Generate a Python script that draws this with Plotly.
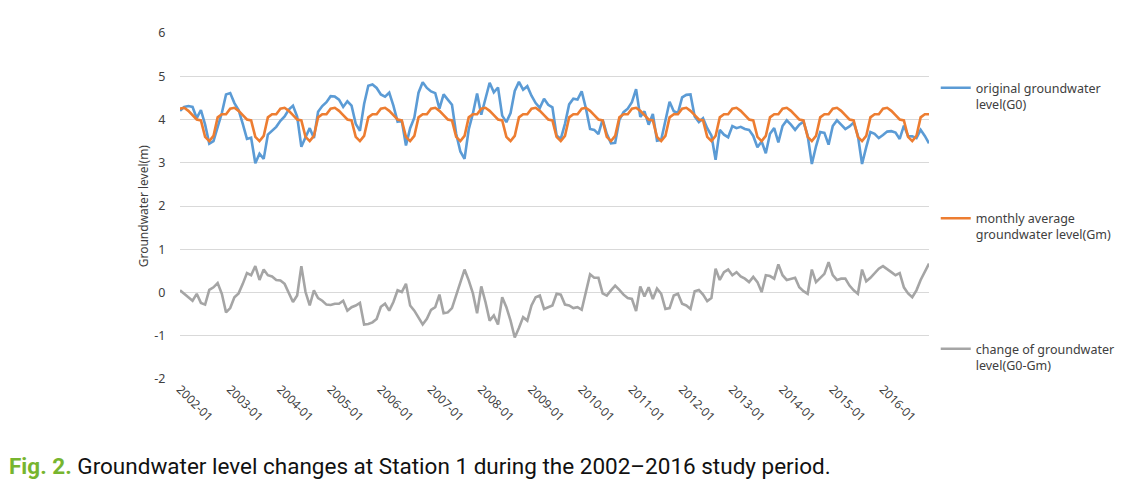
import plotly.graph_objects as go

years = list(range(2002, 2017))
months = [f"{y}-{m:02d}" for y in years for m in range(1, 13)]
tick_labels = [f"{y}-01" for y in years]
y_ticks = [6, 5, 4, 3, 2, 1, 0, -1, -2]
y_tick_text = ["6", "5", "4", "3", "2", "1", "0", "-1", "-2"]

# monthly average groundwater level (Gm), Jan..Dec, repeats every year
gm_monthly = [4.25, 4.27, 4.20, 4.10, 4.00, 3.98, 3.60, 3.50, 3.62, 4.05, 4.12, 4.12]

# original groundwater level (G0)
g0 = [
    4.20, 4.29, 4.31, 4.29, 4.03, 4.22, 3.88, 3.44, 3.50, 3.83, 4.15, 4.58,  # 2002
    4.61, 4.38, 4.22, 3.90, 3.55, 3.58, 2.99, 3.21, 3.09, 3.65, 3.75, 3.83,  # 2003
    3.97, 4.07, 4.23, 4.32, 4.07, 3.37, 3.59, 3.80, 3.57, 4.18, 4.31, 4.40,  # 2004
    4.54, 4.53, 4.46, 4.29, 4.42, 4.32, 3.90, 3.74, 4.36, 4.78, 4.81, 4.73,  # 2005
    4.58, 4.53, 4.62, 4.32, 3.95, 3.97, 3.40, 3.80, 4.04, 4.62, 4.86, 4.73,  # 2006
    4.65, 4.61, 4.25, 4.58, 4.46, 4.34, 3.67, 3.26, 3.09, 3.77, 4.14, 4.60,  # 2007
    4.11, 4.49, 4.85, 4.63, 4.74, 4.09, 3.94, 4.15, 4.66, 4.87, 4.69, 4.77,  # 2008
    4.55, 4.38, 4.27, 4.48, 4.34, 4.28, 3.63, 3.55, 3.90, 4.35, 4.48, 4.46,  # 2009
    4.65, 4.26, 3.78, 3.76, 3.66, 4.00, 3.67, 3.45, 3.46, 3.99, 4.17, 4.25,  # 2010
    4.40, 4.70, 4.06, 4.19, 3.88, 4.13, 3.51, 3.53, 4.00, 4.41, 4.19, 4.15,  # 2011
    4.51, 4.57, 4.58, 4.07, 3.94, 4.03, 3.80, 3.63, 3.07, 3.76, 3.65, 3.59,  # 2012
    3.85, 3.80, 3.83, 3.78, 3.76, 3.62, 3.36, 3.49, 3.22, 3.67, 3.80, 3.47,  # 2013
    3.85, 3.98, 3.88, 3.76, 3.88, 3.95, 3.63, 2.97, 3.38, 3.71, 3.69, 3.42,  # 2014
    3.85, 3.98, 3.88, 3.78, 3.84, 3.93, 3.63, 2.97, 3.36, 3.71, 3.67, 3.57,  # 2015
    3.64, 3.72, 3.73, 3.70, 3.55, 3.86, 3.62, 3.61, 3.57, 3.76, 3.62, 3.45,  # 2016
]

# change of groundwater level (as plotted)
change = [
    0.05, -0.02, -0.11, -0.19, -0.03, -0.24, -0.28, 0.06, 0.12, 0.22, -0.03, -0.46,
    -0.36, -0.11, -0.02, 0.20, 0.45, 0.40, 0.61, 0.29, 0.53, 0.40, 0.37, 0.29,
    0.28, 0.20, -0.03, -0.22, -0.07, 0.61, 0.01, -0.30, 0.05, -0.13, -0.19, -0.28,
    -0.29, -0.26, -0.26, -0.19, -0.42, -0.34, -0.30, -0.24, -0.74, -0.73, -0.69, -0.61,
    -0.33, -0.26, -0.42, -0.22, 0.05, 0.01, 0.20, -0.30, -0.42, -0.57, -0.74, -0.61,
    -0.40, -0.34, -0.05, -0.48, -0.46, -0.36, -0.07, 0.24, 0.53, 0.28, -0.02, -0.48,
    0.14, -0.22, -0.65, -0.53, -0.74, -0.11, -0.34, -0.65, -1.04, -0.82, -0.57, -0.65,
    -0.30, -0.11, -0.07, -0.38, -0.34, -0.30, -0.03, -0.05, -0.28, -0.30, -0.36, -0.34,
    -0.40, 0.01, 0.42, 0.34, 0.34, -0.02, -0.07, 0.05, 0.16, 0.06, -0.05, -0.13,
    -0.15, -0.43, 0.14, -0.09, 0.12, -0.15, 0.09, -0.03, -0.38, -0.36, -0.07, -0.03,
    -0.26, -0.30, -0.38, 0.03, 0.06, -0.05, -0.20, -0.13, 0.55, 0.29, 0.47, 0.53,
    0.40, 0.47, 0.37, 0.32, 0.24, 0.36, 0.24, 0.01, 0.40, 0.38, 0.32, 0.65,
    0.40, 0.29, 0.32, 0.34, 0.12, 0.03, -0.03, 0.53, 0.24, 0.34, 0.43, 0.70,
    0.40, 0.29, 0.32, 0.32, 0.16, 0.05, -0.03, 0.53, 0.26, 0.34, 0.45, 0.55,
    0.61, 0.55, 0.47, 0.40, 0.45, 0.12, -0.02, -0.11, 0.05, 0.29, 0.50, 0.67,
]

gm = gm_monthly * len(years)

FONT = "Noto Sans"
TXT = "#404040"

fig = go.Figure()
fig.add_trace(go.Scatter(x=months, y=g0, mode="lines",
                         name="original groundwater<br>level(G0)", legendgroup="a",
                         line=dict(color="#5b9bd5", width=2.6)))
fig.add_trace(go.Scatter(x=months, y=gm, mode="lines",
                         name="monthly average<br>groundwater level(Gm)", legendgroup="b",
                         line=dict(color="#ed7d31", width=2.6)))
fig.add_trace(go.Scatter(x=months, y=change, mode="lines",
                         name="change of groundwater<br>level(G0-Gm)", legendgroup="c",
                         line=dict(color="#a5a5a5", width=2.6)))

# page body adds an 8px offset, so the figure is 8px smaller and margins shifted
fig.update_layout(
    width=1124, height=483,
    margin=dict(l=172, r=197, t=25, b=112),
    paper_bgcolor="white", plot_bgcolor="white",
    font=dict(family=FONT, size=12, color=TXT),
    showlegend=True,
    legend=dict(x=1.009, y=0.884, xanchor="left", yanchor="top",
                valign="top", tracegroupgap=95,
                font=dict(family=FONT, size=12.5, color=TXT),
                bgcolor="rgba(0,0,0,0)", itemwidth=30),
    xaxis=dict(type="category", range=[0, len(months) - 1],
               tickmode="array", tickvals=tick_labels, ticktext=tick_labels,
               tickangle=45, showgrid=False, zeroline=False, showline=False,
               ticks="", tickfont=dict(family=FONT, size=12, color=TXT)),
    yaxis=dict(range=[-2, 6], tickmode="array", tickvals=y_ticks, ticktext=y_tick_text,
               showgrid=True, gridcolor="#d9d9d9", gridwidth=1, zeroline=False,
               showline=False, ticks="outside", ticklen=11, tickcolor="rgba(0,0,0,0)",
               tickfont=dict(family=FONT, size=12.5, color=TXT)),
    annotations=[
        dict(text="Groundwater level(m)", textangle=-90, x=-0.049, y=0.5,
             xref="paper", yref="paper", xanchor="center", yanchor="middle",
             showarrow=False, font=dict(family=FONT, size=12, color=TXT)),
        dict(text="<b style='color:#77b52f'>Fig. 2.</b> Groundwater level changes at Station 1 during the 2002\u20132016 study period.",
             x=-0.2305, y=-0.251, xref="paper", yref="paper", xanchor="left", yanchor="middle",
             showarrow=False, font=dict(family="Roboto", size=22.5, color="#111111")),
    ],
)

fig.write_html("out.html")
